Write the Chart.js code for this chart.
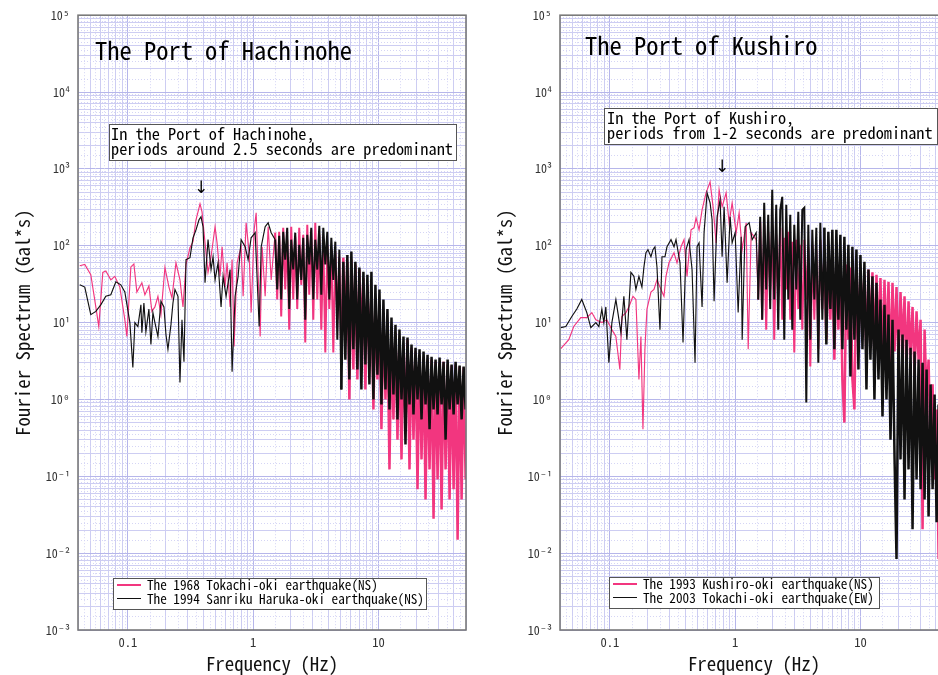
<!DOCTYPE html>
<html><head><meta charset="utf-8">
<script src="https://cdn.jsdelivr.net/npm/chart.js@4.4.1/dist/chart.umd.min.js"></script>
<style>
html,body{margin:0;padding:0;background:#fff;overflow:hidden;width:938px;height:675px;}
.panel{position:absolute;top:0;width:480px;height:675px;}
.ov{position:absolute;white-space:pre;color:#000;}
.box{position:absolute;background:#fff;border:1.5px solid #555;box-sizing:border-box;}
.sample{position:absolute;height:1.5px;}
</style></head><body>
<div class="panel" style="left:0"><canvas id="c1"></canvas></div>
<div class="panel" style="left:482px"><canvas id="c2"></canvas></div>
<div id="overlay"></div>
<script>
// ---------------- DATA ----------------
const xTickValues = [0.1, 1, 10];
const xTickLabels = ['0.1', '1', '10'];
const yTickExponents = [-3, -2, -1, 0, 1, 2, 3, 4, 5];
const yTickLabels = ['10⁻³', '10⁻²', '10⁻¹', '10⁰', '10¹', '10²', '10³', '10⁴', '10⁵'];
const xRange = [0.04, 50];
const yRange = [0.001, 100000];

// Port of Hachinohe, 1968 Tokachi-oki earthquake (NS)
const hachinoheFreq1968 = [0.0413,0.0453,0.0506,0.0555,0.0586,0.0631,0.0667,0.0731,0.0787,0.0863,0.0946,0.0982,0.1057,0.1117,0.1180,0.1294,0.1368,0.1472,0.1556,0.1644,0.1738,0.1837,0.1977,0.2128,0.2249,0.2421,0.2606,0.2754,0.2911,0.3133,0.3311,0.3499,0.3767,0.3908,0.4130,0.4365,0.4613,0.4966,0.5152,0.5445,0.5649,0.5970,0.6194,0.6546,0.6792,0.7047,0.7447,0.8017,0.8318,0.8790,0.9290,0.9638,1.019,1.057,1.138,1.180,1.247,1.318,1.393,1.500,
1.556,1.614,1.675,1.738,1.803,1.871,1.941,2.014,2.089,2.168,2.249,2.333,2.421,2.512,2.606,2.704,2.805,2.911,3.020,3.133,3.251,3.373,3.499,3.631,3.767,3.908,4.055,4.207,4.365,4.529,4.699,4.875,5.058,5.248,5.445,5.649,5.861,6.081,6.310,6.546,6.792,7.047,7.311,7.586,7.870,8.166,8.472,8.790,9.120,9.462,9.817,10.19,10.57,10.96,11.38,11.80,12.25,12.71,13.18,13.68,14.19,14.72,15.28,15.85,16.44,17.06,17.70,18.37,19.05,19.77,20.51,21.28,22.08,22.91,23.77,24.66,25.59,26.55,27.54,28.58,29.65,30.76,31.92,33.11,34.36,35.65,36.98,38.37,39.81,41.30,42.85,44.46,46.13,47.86,49.66];
const hachinoheAmp1968 = [55,57,42,16,8.9,45,47,36,40,29,10.9,6.6,53,58,25,33,23,30,14,16,22,12.7,52,29,21,60,36,16,57,94,113,218,351,276,109,45,72,177,109,40,97,29,60,16,66,4.9,60,97,22,199,81,13.5,161,268,6.6,97,22,177,36,148,
20,152,12,171,27,120,8.1,177,20,131,15,171,31,139,5.5,187,23,161,10.9,199,20,139,8.1,120,4.1,103,15,89,4.1,84,10.9,72,3.3,70,8.1,62,1.0,66,2.45,57,1.82,49,6.0,38,1.35,31,3.3,23,0.74,20,1.82,15,0.41,11.6,1.0,9.4,0.123,8.1,0.55,7.4,0.30,6.4,0.166,5.2,0.41,6.0,0.123,4.7,0.30,4.2,0.068,3.7,0.166,3.5,0.050,3.3,0.123,3.3,0.028,3.1,0.091,3.0,0.037,3.1,0.123,2.85,0.050,2.77,0.068,2.85,0.015,2.68,0.050,2.6,0.091];

// Port of Hachinohe, 1994 Sanriku Haruka-oki earthquake (NS)
const hachinoheFreq1994 = [0.0413,0.0453,0.0506,0.0555,0.0608,0.0667,0.0731,0.0802,0.0879,0.0946,0.1038,0.1096,0.1138,0.1202,0.1271,0.1294,0.1343,0.1393,0.1472,0.1528,0.1585,0.1644,0.1738,0.1837,0.1941,0.2014,0.2089,0.2208,0.2291,0.2377,0.2512,0.2606,0.2704,0.2805,0.2911,0.3133,0.3311,0.3499,0.3698,0.3837,0.3981,0.4130,0.4365,0.4613,0.4786,0.4966,0.5248,0.5546,0.5754,0.6081,0.6546,0.6792,0.7178,0.7586,0.8017,0.8630,0.9120,0.9638,1.038,1.117,1.159,1.247,1.318,1.393,1.500,
1.556,1.614,1.675,1.738,1.803,1.871,1.941,2.014,2.089,2.168,2.249,2.333,2.421,2.512,2.606,2.704,2.805,2.911,3.020,3.133,3.251,3.373,3.499,3.631,3.767,3.908,4.055,4.207,4.365,4.529,4.699,4.875,5.058,5.248,5.445,5.649,5.861,6.081,6.310,6.546,6.792,7.047,7.311,7.586,7.870,8.166,8.472,8.790,9.120,9.462,9.817,10.19,10.57,10.96,11.38,11.80,12.25,12.71,13.18,13.68,14.19,14.72,15.28,15.85,16.44,17.06,17.70,18.37,19.05,19.77,20.51,21.28,22.08,22.91,23.77,24.66,25.59,26.55,27.54,28.58,29.65,30.76,31.92,33.11,34.36,35.65,36.98,38.37,39.81,41.30,42.85,44.46,46.13,47.86,49.66];
const hachinoheAmp1994 = [31,29,12.7,14,17,22,23,34,31,25,10,2.6,10,8.9,17,7.4,18,7.6,15,5.2,13.5,10,6.6,19,16,7.0,4.5,9.4,18,27,22,1.66,10.9,3.1,66,70,127,161,218,238,177,33,120,49,72,36,60,16,40,22,49,2.3,22,40,120,97,66,127,148,8.9,97,177,199,148,120,
27,135,20,152,66,171,15,120,49,148,20,103,36,127,10.9,139,57,171,20,120,49,182,23,171,57,152,20,127,36,113,6.0,89,1.35,62,3.3,76,1.82,84,4.5,62,2.45,52,1.35,46,2.85,42,1.57,46,1.0,31,2.1,27,0.86,20,1.35,15,0.74,11.6,1.16,9.4,0.55,8.1,1.0,6.6,0.26,6.4,0.86,5.2,0.64,4.7,1.0,4.5,0.55,4.2,0.86,3.8,0.41,3.6,0.74,3.3,0.64,3.5,0.86,3.1,0.30,3.3,0.74,2.85,0.64,3.1,0.86,2.77,0.55,2.68,0.74];

// Port of Kushiro, 1993 Kushiro-oki earthquake (NS)
const kushiroFreq1993 = [0.0406,0.0470,0.0515,0.0586,0.0655,0.0718,0.0773,0.0863,0.0946,0.1038,0.1117,0.1202,0.1247,0.1343,0.1419,0.1528,0.1614,0.1706,0.1770,0.1837,0.1905,0.1977,0.2128,0.2249,0.2377,0.2559,0.2704,0.2805,0.2965,0.3251,0.3436,0.3698,0.3908,0.4130,0.4446,0.4699,0.4875,0.5152,0.5445,0.5861,0.6310,0.6668,0.7047,0.7447,0.7870,0.8472,0.8954,0.9462,1.019,1.076,1.138,1.225,1.271,1.343,1.472,
1.528,1.585,1.644,1.706,1.770,1.837,1.905,1.977,2.051,2.128,2.208,2.291,2.377,2.466,2.559,2.655,2.754,2.858,2.965,3.076,3.192,3.311,3.436,3.565,3.698,3.837,3.981,4.130,4.285,4.446,4.613,4.786,4.966,5.152,5.346,5.546,5.754,5.970,6.194,6.427,6.668,6.918,7.178,7.447,7.727,8.017,8.318,8.630,8.954,9.290,9.638,10.0,10.38,10.76,11.17,11.59,12.02,12.47,12.94,13.43,13.93,14.45,15.00,15.56,16.14,16.75,17.38,18.03,18.71,19.41,20.14,20.89,21.68,22.49,23.33,24.21,25.12,26.06,27.04,28.05,29.11,30.20,31.33,32.51,33.73,34.99,36.31,37.67,39.08,40.55,42.07,43.65,45.29,46.99,48.75];
const kushiroAmp1993 = [4.6,6.0,8.9,11.6,11.6,13.5,10.9,10,10.9,8.1,6.6,2.45,12,13.5,16,22,20,1.82,6.6,0.41,4.5,15,25,27,36,27,22,40,60,81,60,97,120,40,161,171,231,161,293,488,678,321,109,534,321,488,199,362,148,268,89,199,4.5,148,120,
20,205,10.9,187,8.1,152,27,187,6.0,139,20,171,10.9,127,27,152,10.9,113,4.1,120,15,103,8.1,120,20,94,2.68,103,10.9,89,4.5,120,15,84,6.0,76,10.9,70,3.3,66,8.1,62,1.82,0.50,57,6.0,52,1.82,0.74,49,4.5,52,8.1,42,3.3,49,5.2,45,3.3,42,5.2,38,2.85,36,4.5,34,2.45,33,4.2,29,2.85,25,4.5,22,2.45,19,3.8,16,2.1,14,3.3,10.9,0.0205,8.1,1.0,3.3,0.166,1.57,0.091,0.74,0.0084,0.55,0.050,0.41,0.028];

// Port of Kushiro, 2003 Tokachi-oki earthquake (EW)
const kushiroFreq2003 = [0.0406,0.0445,0.0497,0.0545,0.0597,0.0655,0.0705,0.0773,0.0817,0.0863,0.0895,0.0929,0.0982,0.1038,0.1117,0.1159,0.1225,0.1294,0.1368,0.1472,0.1556,0.1614,0.1706,0.1803,0.1871,0.1941,0.2014,0.2128,0.2208,0.2291,0.2377,0.2512,0.2606,0.2754,0.2858,0.3076,0.3251,0.3373,0.3631,0.3837,0.4055,0.4285,0.4529,0.4786,0.4966,0.5152,0.5445,0.5649,0.5970,0.6310,0.6546,0.6792,0.7178,0.7586,0.7870,0.8166,0.8630,0.9120,0.9462,1.0,1.057,1.117,1.138,1.202,1.294,1.368,1.472,
1.528,1.585,1.644,1.706,1.770,1.837,1.905,1.977,2.051,2.128,2.208,2.291,2.377,2.466,2.559,2.655,2.754,2.858,2.965,3.076,3.192,3.311,3.436,3.565,3.698,3.837,3.981,4.130,4.285,4.446,4.613,4.786,4.966,5.152,5.346,5.546,5.754,5.970,6.194,6.427,6.668,6.918,7.178,7.447,7.727,8.017,8.318,8.630,8.954,9.290,9.638,10.0,10.38,10.76,11.17,11.59,12.02,12.47,12.94,13.43,13.93,14.45,15.00,15.56,16.14,16.75,17.38,18.03,18.71,19.41,20.14,20.89,21.68,22.49,23.33,24.21,25.12,26.06,27.04,28.05,29.11,30.20,31.33,32.51,33.73,34.99,36.31,37.67,39.08,40.55,42.07,43.65,45.29,46.99,48.75];
const kushiroAmp2003 = [8.6,8.9,12,15,20,13.5,8.6,10,8.9,15,10,16,3.0,10,20,13.5,7.4,22,6.0,45,40,27,40,29,53,81,89,72,89,97,53,8.1,72,72,97,120,97,120,60,5.5,89,120,49,3.0,97,109,16,148,488,362,218,19,238,396,72,321,33,238,109,148,13.5,131,6.0,177,199,120,148,
20,238,10.9,362,27,253,15,534,20,341,8.1,293,433,6.0,341,20,253,8.1,187,27,276,10.9,293,312,0.91,187,6.0,161,20,171,3.0,199,10.9,171,5.2,152,15,161,4.5,161,10.9,139,4.5,131,8.1,103,1.99,97,6.0,89,2.45,76,4.5,62,1.35,49,3.3,40,1.0,33,1.82,20,0.60,17,1.0,12.7,0.30,10.9,0.18,0.0084,8.1,0.166,7.0,0.050,6.0,0.123,4.7,0.0205,4.2,0.091,3.3,0.068,3.0,0.050,2.45,0.030,1.57,0.068,1.16,0.0253,0.86,0.028,0.64,0.015,0.47];

const PINK = '#f2367f';
const BLACK = '#111111';

const panels = [
  {
    canvas: 'c1',
    title: 'The Port of Hachinohe',
    note: ['In the Port of Hachinohe,', 'periods around 2.5 seconds are predominant'],
    series: [
      { label: 'The 1968 Tokachi-oki earthquake(NS)', f: hachinoheFreq1968, v: hachinoheAmp1968, color: PINK },
      { label: 'The 1994 Sanriku Haruka-oki earthquake(NS)', f: hachinoheFreq1994, v: hachinoheAmp1994, color: BLACK }
    ],
    layout: { titleX: 95, titleBase: 60, noteBox: [109, 124, 348, 37], noteX: 111, noteBase: [140, 155], arrowX: 201, arrowBase: 193, legendBox: [113, 578, 314, 32] }
  },
  {
    canvas: 'c2',
    title: 'The Port of Kushiro',
    note: ['In the Port of Kushiro,', 'periods from 1-2 seconds are predominant'],
    series: [
      { label: 'The 1993 Kushiro-oki earthquake(NS)', f: kushiroFreq1993, v: kushiroAmp1993, color: PINK },
      { label: 'The 2003 Tokachi-oki earthquake(EW)', f: kushiroFreq2003, v: kushiroAmp2003, color: BLACK }
    ],
    layout: { titleX: 585, titleBase: 55, noteBox: [604, 108, 334, 37], noteX: 607, noteBase: [124, 139], arrowX: 722, arrowBase: 172, legendBox: [609, 577, 271, 32] }
  }
];

// ---------------- STYLE / HELPERS ----------------
const MONO = '"Noto Sans Mono CJK JP", "DejaVu Sans Mono", monospace';
const GRID_MAJOR = '#b6b6ea';
const GRID_MINOR = '#cdcdf2';
const GRID_DOT = '#d5d5f5';
const FRAME = '#7a7a7a';

const mctx = document.createElement('canvas').getContext('2d');
mctx.font = '100px ' + MONO;
const ADV = mctx.measureText('0000000000').width / 1000; // advance per char in em
const sizeFor = w => +(w / ADV).toFixed(2);

const isDecade = v => Math.abs(Math.log10(v) - Math.round(Math.log10(v))) < 1e-6;
function logGrid(min, max) {
  const out = [];
  for (let e = Math.floor(Math.log10(min)); e <= Math.ceil(Math.log10(max)); e++) {
    for (let k = 1; k <= 9; k++) {
      const v = +(k * Math.pow(10, e)).toPrecision(6);
      if (v >= min * 0.9999 && v <= max * 1.0001) out.push(v);
    }
  }
  if (out[0] > min) out.unshift(min);
  if (out[out.length - 1] < max) out.push(max);
  return out;
}
function halfGrid(min, max) {
  const out = [];
  for (let e = Math.floor(Math.log10(min)); e <= Math.ceil(Math.log10(max)); e++) {
    for (let k = 1; k <= 9; k++) {
      const v = (k + 0.5) * Math.pow(10, e);
      if (v > min && v < max) out.push(v);
    }
  }
  return out;
}

const subGridPlugin = {
  id: 'subGrid',
  beforeDatasetsDraw(chart) {
    const { ctx, chartArea: a, scales: { x, y } } = chart;
    ctx.save();
    ctx.beginPath();
    ctx.rect(a.left, a.top, a.right - a.left, a.bottom - a.top);
    ctx.clip();
    ctx.strokeStyle = GRID_DOT;
    ctx.lineWidth = 1;
    ctx.setLineDash([1, 2]);
    ctx.beginPath();
    for (const v of halfGrid(x.min, x.max)) {
      const p = Math.round(x.getPixelForValue(v)) + 0.5;
      ctx.moveTo(p, a.top); ctx.lineTo(p, a.bottom);
    }
    for (const v of halfGrid(y.min, y.max)) {
      const p = Math.round(y.getPixelForValue(v)) + 0.5;
      ctx.moveTo(a.left, p); ctx.lineTo(a.right, p);
    }
    ctx.stroke();
    ctx.restore();
  }
};
const framePlugin = {
  id: 'frame',
  afterDatasetsDraw(chart) {
    const { ctx, chartArea: a } = chart;
    ctx.save();
    ctx.strokeStyle = FRAME;
    ctx.lineWidth = 1.6;
    ctx.strokeRect(a.left, a.top, a.right - a.left, a.bottom - a.top);
    ctx.restore();
  }
};

const tickFont = { family: MONO, size: sizeFor(6.3) };
const axisTitleFont = { family: MONO, size: sizeFor(9.45) };

// stroke weight by frequency band: the dense high-frequency part is drawn heavier
const strokeFor = f => (f >= 5 ? 2.5 : f >= 1.5 ? 2.0 : 1.15);

function makeChart(p) {
  // black series first so it is drawn on top of the pink one
  const datasets = p.series.slice().reverse().map(s => ({
    label: s.label,
    data: s.f.map((x, i) => ({ x, y: s.v[i] })),
    borderColor: s.color,
    backgroundColor: s.color,
    borderWidth: 1.15,
    pointRadius: 0,
    tension: 0,
    fill: false,
    borderJoinStyle: 'miter',
    segment: { borderWidth: c => strokeFor(c.p0.parsed.x) }
  }));
  return new Chart(document.getElementById(p.canvas), {
    type: 'line',
    data: { datasets },
    plugins: [subGridPlugin, framePlugin],
    options: {
      responsive: true,
      maintainAspectRatio: false,
      animation: false,
      events: [],
      layout: { padding: { top: 14, right: 14, left: 0, bottom: 0 } },
      plugins: { legend: { display: false }, tooltip: { enabled: false } },
      scales: {
        x: {
          type: 'logarithmic', min: xRange[0], max: xRange[1],
          afterBuildTicks: s => { s.ticks = logGrid(xRange[0], xRange[1]).map(v => ({ value: v })); },
          afterFit: s => { s.height = 45; },
          border: { display: false },
          grid: { drawTicks: false, lineWidth: 1, color: c => (c.tick && isDecade(c.tick.value)) ? GRID_MAJOR : GRID_MINOR },
          ticks: {
            autoSkip: false, maxRotation: 0, minRotation: 0, padding: 5, color: '#333', font: tickFont,
            callback: v => { const i = xTickValues.findIndex(t => Math.abs(t - v) < 1e-9); return i >= 0 ? xTickLabels[i] : ''; }
          },
          title: { display: true, text: 'Frequency (Hz)', color: '#111', font: axisTitleFont, padding: { top: 0, bottom: 0 } }
        },
        y: {
          type: 'logarithmic', min: yRange[0], max: yRange[1],
          afterBuildTicks: s => { s.ticks = logGrid(yRange[0], yRange[1]).map(v => ({ value: v })); },
          afterFit: s => { s.width = 78; },
          border: { display: false },
          grid: { drawTicks: false, lineWidth: 1, color: c => (c.tick && isDecade(c.tick.value)) ? GRID_MAJOR : GRID_MINOR },
          ticks: {
            autoSkip: false, padding: 8, color: '#333', font: { family: MONO, size: sizeFor(6.0) },
            callback: v => { if (!isDecade(v)) return ''; const i = yTickExponents.indexOf(Math.round(Math.log10(v))); return i >= 0 ? yTickLabels[i] : ''; }
          },
          title: { display: true, text: 'Fourier Spectrum (Gal*s)', color: '#111', font: axisTitleFont, padding: { top: 11, bottom: 0 } }
        }
      }
    }
  });
}

// ---------------- OVERLAY TEXT ----------------
const overlay = document.getElementById('overlay');
function fontBox(size, family) {
  mctx.font = size + 'px ' + family;
  const m = mctx.measureText('Hg');
  return { a: m.fontBoundingBoxAscent, d: m.fontBoundingBoxDescent };
}
function placeText(str, x, baseline, size, family, color, center) {
  const { a, d } = fontBox(size, family);
  const lh = Math.ceil(a + d);
  const el = document.createElement('div');
  el.className = 'ov';
  el.textContent = str;
  el.style.left = x + 'px';
  el.style.top = (baseline - a - (lh - (a + d)) / 2) + 'px';
  el.style.fontFamily = family;
  el.style.fontSize = size + 'px';
  el.style.lineHeight = lh + 'px';
  el.style.color = color || '#000';
  if (center) el.style.transform = 'translateX(-50%)';
  overlay.appendChild(el);
  return el;
}
function placeBox(b) {
  const el = document.createElement('div');
  el.className = 'box';
  el.style.left = b[0] + 'px'; el.style.top = b[1] + 'px';
  el.style.width = b[2] + 'px'; el.style.height = b[3] + 'px';
  overlay.appendChild(el);
}
function placeSample(x, y, w, color) {
  const el = document.createElement('div');
  el.className = 'sample';
  el.style.left = x + 'px'; el.style.top = (y - 0.75) + 'px';
  el.style.width = w + 'px'; el.style.background = color;
  overlay.appendChild(el);
}

const titleSize = sizeFor(12.24);
const noteSize = sizeFor(8.15);
const legendSize = sizeFor(6.6);

panels.forEach(p => {
  const chart = makeChart(p);
  const L = p.layout;
  placeText(p.title, L.titleX, L.titleBase, titleSize, MONO, '#000');
  placeBox(L.noteBox);
  p.note.forEach((t, i) => placeText(t, L.noteX, L.noteBase[i], noteSize, MONO, '#000'));
  placeText('↓', L.arrowX, L.arrowBase, 17, '"DejaVu Sans"', '#000', true);
  placeBox(L.legendBox);
  const bx = L.legendBox[0], by = L.legendBox[1];
  // legend rows in series order (pink first), colours taken from the chart datasets
  p.series.forEach((s, i) => {
    const ds = chart.data.datasets.find(d => d.label === s.label);
    placeSample(bx + 4, by + 7 + i * 13.5, 24, ds.borderColor);
    placeText(ds.label, bx + 34, by + 12 + i * 13.5, legendSize, MONO, '#000');
  });
});
</script>
</body></html>
